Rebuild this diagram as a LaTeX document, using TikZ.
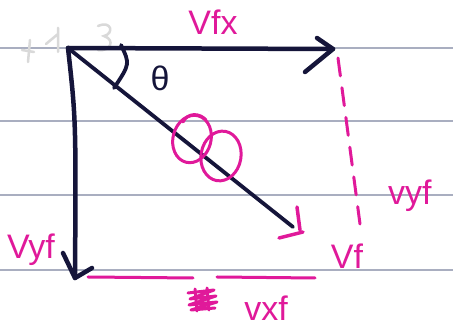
\documentclass[tikz,border=0pt]{standalone}
\usepackage{fontspec}
\setmainfont{Liberation Sans}
\begin{document}
\begin{tikzpicture}[x=1pt,y=-1pt,
  ink/.style={draw=inkc,line width=4.5pt,line cap=round,line join=round},
  pinkpen/.style={draw=pinkc,line width=3pt,line cap=round,line join=round},
  rule/.style={draw=rulec,line width=1.2pt},
  plabel/.style={text=pinkc,font=\fontsize{34}{34}\selectfont,inner sep=0pt},
  faint/.style={draw=black!15,line width=2.5pt,line cap=round}]
\definecolor{inkc}{HTML}{15153A}
\definecolor{pinkc}{HTML}{E0199A}
\definecolor{rulec}{HTML}{A9AEC0}
\useasboundingbox (0,0) rectangle (453,336);
\fill[white] (0,0) rectangle (453,336);
% ruled lines
\foreach \yy in {48,121,195,270} \draw[rule] (0,\yy) -- (453,\yy);
% faint show-through marks
\draw[faint] (30,40) -- (28,62) (22,50) -- (34,52);
\draw[faint] (58,28) -- (58,52) (46,44) -- (58,34);
\draw[faint] (98,26) .. controls (112,20) and (114,34) .. (104,36) .. controls (116,40) and (110,52) .. (98,50);
% coordinates
\coordinate (O) at (68,48);
\coordinate (H) at (333,49);
\coordinate (V) at (75,278);
\coordinate (D) at (293,227);
% vectors
\draw[ink] (O) -- (H);
\draw[ink] (317,38) -- (H) -- (305,72);
\draw[ink] (O) .. controls (76,120) .. (V);
\draw[ink] (63,253) -- (V) -- (92,268);
\draw[ink,line width=3.8pt] (O) -- (D);
% angle arc
\draw[ink,line width=3.8pt] (121,45) .. controls (130,64) .. (114,88);
\node[text=inkc,font=\fontsize{34}{34}\selectfont,inner sep=0pt] (th) at (160,78) {θ};
% pink hook at end of diagonal
\draw[pinkpen,line width=3.5pt] (297,207) -- (300,230) (279,238) -- (303,232);
% flower
\draw[pinkpen] (192,139) ellipse [x radius=19, y radius=24, rotate=-15];
\draw[pinkpen] (221,156) ellipse [x radius=20, y radius=25, rotate=-10];
\draw[pinkpen] (183,122) .. controls (188,112) and (200,113) .. (206,120);
% dashed projections
\draw[pinkpen,dash pattern=on 18pt off 12pt] (338,58) -- (360,224);
\draw[pinkpen] (88,277) -- (193,278);
\draw[pinkpen] (217,277) -- (315,278);
% scribble
\draw[pinkpen,line width=3pt] (188,293) -- (214,290) -- (190,299) -- (216,296) -- (189,305) -- (217,302) -- (191,310) -- (215,308);
\draw[pinkpen,line width=3pt] (195,289) -- (197,311) (207,288) -- (209,310);
% labels
\node[plabel] (vfx) at (213,22) {Vfx};
\node[plabel] (vyfl) at (31,250) {Vyf};
\node[plabel,anchor=west] (vyfr) at (388,196) {vyf};
\node[plabel] (vf) at (347,256) {Vf};
\node[plabel] (vxf) at (266,308) {vxf};
\end{tikzpicture}
\end{document}
